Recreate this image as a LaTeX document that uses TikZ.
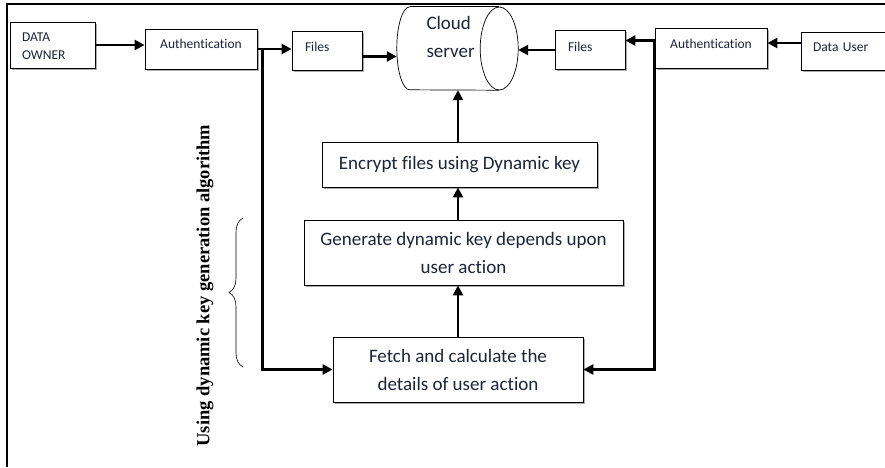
\documentclass[tikz,border=0pt]{standalone}
\usepackage{fontspec}
\setmainfont{Carlito}[Ligatures=NoCommon]
\newfontfamily\sidefont{Liberation Serif}
\usetikzlibrary{arrows.meta,shadows,decorations.pathreplacing}
\definecolor{ink}{HTML}{1C2438}
\begin{document}
\begin{tikzpicture}[x=1pt,y=-1pt,
    box/.style={draw,line width=0.8pt,fill=white,inner sep=0pt,text=ink,
        drop shadow={shadow xshift=1.6pt,shadow yshift=-1.6pt,fill=gray!65,opacity=1}},
    topbox/.style={box,font=\fontsize{13.5}{18}\selectfont,text depth=7pt},
    midbox/.style={box,font=\fontsize{19}{28}\selectfont,align=center},
    arr/.style={line width=2.4pt,-{Triangle[length=10pt,width=10pt]}}]
  \useasboundingbox (0,0) rectangle (885,467);
  \draw[line width=1.6pt] (7,467) -- (7,4) -- (885,4);

  % top row
  \node[topbox,minimum width=85pt,minimum height=46pt,text width=61pt,align=left,text depth=15pt] (owner) at (52.5,45) {DATA\\OWNER};
  \node[topbox,minimum width=112pt,minimum height=40pt,text depth=10pt] (auth1) at (201,49) {Authentication};
  \node[topbox,minimum width=70pt,minimum height=39pt,text width=44pt,align=left] (files1) at (327,50.5) {Files};
  \node[inner sep=0pt,minimum width=121pt,minimum height=83pt,text width=62pt,align=left,
        text=ink,font=\fontsize{19}{28}\selectfont,text height=10pt,text depth=48pt] (cloud) at (457.5,48.5) {Cloud\\server};
  \node[topbox,minimum width=70pt,minimum height=39pt,text width=44pt,align=left] (files2) at (590,50) {Files};
  \node[topbox,minimum width=112pt,minimum height=40pt,text depth=10pt] (auth2) at (711,48.5) {Authentication};
  \node[topbox,minimum width=94pt,minimum height=38pt,text width=70pt,align=left] (user) at (848,51) {Data User};

  % cylinder round the cloud server
  \draw[line width=0.7pt] ([xshift=13pt]cloud.north west) arc[start angle=90,end angle=270,x radius=13pt,y radius=41.5pt]
      -- ([xshift=-19pt]cloud.south east);
  \draw[line width=0.7pt] ([xshift=13pt]cloud.north west) -- ([xshift=-19pt]cloud.north east);
  \draw[line width=0.7pt] ([xshift=-19pt]cloud.east) ellipse[x radius=19pt,y radius=41.5pt];

  % middle column
  \node[midbox,minimum width=275pt,minimum height=45pt] (encrypt) at (459.5,164.5) {Encrypt files using Dynamic key};
  \node[midbox,minimum width=319pt,minimum height=65pt] (generate) at (463.5,252.5) {Generate dynamic key depends upon\\user action};
  \node[midbox,minimum width=250pt,minimum height=65pt] (fetch) at (458,369.5) {Fetch and calculate the\\details of user action};

  \coordinate (ltop) at ([xshift=5pt]auth1.east);
  \coordinate (rtop) at ([yshift=8pt]auth2.west);

  \draw[arr] (owner.east) -- (owner.east -| auth1.west);
  \draw[arr] (auth1.east) -- (auth1.east -| files1.west);
  \draw[arr] ([yshift=-6pt]files1.east) -- ([yshift=-6pt]files1.east -| cloud.west);
  \draw[arr] (files2.west) -- (files2.west -| cloud.east);
  \draw[arr] (rtop) -- (rtop -| files2.east);
  \draw[arr] ([yshift=8pt]user.west) -- ([yshift=8pt]user.west -| auth2.east);

  \draw[arr] (ltop) |- (fetch.west);
  \draw[arr] (rtop) |- (fetch.east);
  \draw[arr] (fetch.north) -- (fetch.north |- generate.south);
  \draw[arr] (fetch.north |- generate.north) -- (fetch.north |- encrypt.south);
  \draw[arr] (fetch.north |- encrypt.north) -- (fetch.north |- cloud.south);

  % brace and side label
  \draw[line width=0.6pt,decorate,decoration={brace,amplitude=14pt}] (243,367) -- (243,218);
  \node[rotate=90,font=\sidefont\bfseries\fontsize{18.5}{20}\selectfont] (algo) at (205,285.5) {Using dynamic key generation algorithm};
\end{tikzpicture}
\end{document}
